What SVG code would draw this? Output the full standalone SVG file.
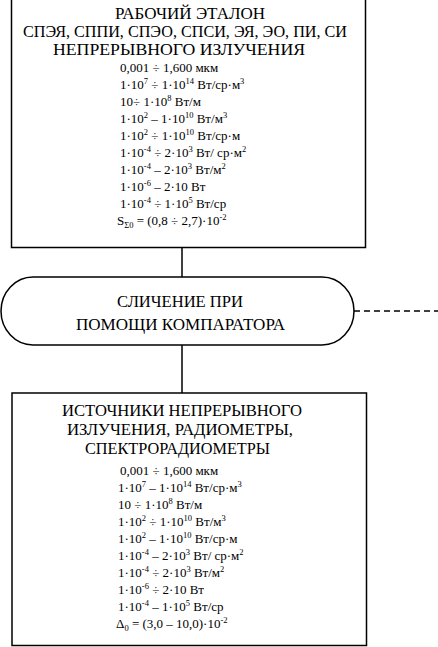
<svg xmlns="http://www.w3.org/2000/svg" width="438" height="647" viewBox="0 0 438 647">
<style>
.box{fill:#fff;stroke:#000;stroke-width:1.5}
.t{font-family:"Liberation Serif","Times New Roman",serif;fill:#000}
.h{font-size:16px;text-anchor:middle}
.d{font-size:13px}
.s{font-size:8.5px}
.conn{stroke:#000;stroke-width:1.5;fill:none}
.dash{stroke-dasharray:6 4}
</style>
<rect width="438" height="647" fill="#fff"/>
<g id="connectors">
<line class="conn" x1="182" y1="247.5" x2="182" y2="277"/>
<line class="conn" x1="182" y1="345" x2="182" y2="393"/>
<line class="conn dash" x1="354" y1="311" x2="438" y2="311"/>
</g>
<g id="working-standard">
<rect class="box" x="11.5" y="-2" width="354" height="249.5"/>
<text class="t h" x="190" y="19" textLength="150" lengthAdjust="spacingAndGlyphs">РАБОЧИЙ ЭТАЛОН</text>
<text class="t h" x="185" y="37" textLength="324" lengthAdjust="spacingAndGlyphs">СПЭЯ, СППИ, СПЭО, СПСИ, ЭЯ, ЭО, ПИ, СИ</text>
<text class="t h" x="179" y="55" textLength="252" lengthAdjust="spacingAndGlyphs">НЕПРЕРЫВНОГО ИЗЛУЧЕНИЯ</text>
<text class="t d" x="120" y="72">0,001 ÷ 1,600 мкм</text>
<text class="t d" x="120" y="89">1·10<tspan class="s" dy="-5">7</tspan><tspan dy="5"> ÷ 1·10</tspan><tspan class="s" dy="-5">14</tspan><tspan dy="5"> Вт/ср·м</tspan><tspan class="s" dy="-5">3</tspan></text>
<text class="t d" x="120" y="106">10÷ 1·10<tspan class="s" dy="-5">8</tspan><tspan dy="5"> Вт/м</tspan></text>
<text class="t d" x="120" y="123">1·10<tspan class="s" dy="-5">2</tspan><tspan dy="5"> – 1·10</tspan><tspan class="s" dy="-5">10</tspan><tspan dy="5"> Вт/м</tspan><tspan class="s" dy="-5">3</tspan></text>
<text class="t d" x="120" y="140">1·10<tspan class="s" dy="-5">2</tspan><tspan dy="5"> ÷ 1·10</tspan><tspan class="s" dy="-5">10</tspan><tspan dy="5"> Вт/ср·м</tspan></text>
<text class="t d" x="120" y="157">1·10<tspan class="s" dy="-5">-4</tspan><tspan dy="5"> ÷ 2·10</tspan><tspan class="s" dy="-5">3</tspan><tspan dy="5"> Вт/ ср·м</tspan><tspan class="s" dy="-5">2</tspan></text>
<text class="t d" x="120" y="174">1·10<tspan class="s" dy="-5">-4</tspan><tspan dy="5"> – 2·10</tspan><tspan class="s" dy="-5">3</tspan><tspan dy="5"> Вт/м</tspan><tspan class="s" dy="-5">2</tspan></text>
<text class="t d" x="120" y="191">1·10<tspan class="s" dy="-5">-6</tspan><tspan dy="5"> – 2·10 Вт</tspan></text>
<text class="t d" x="120" y="208">1·10<tspan class="s" dy="-5">-4</tspan><tspan dy="5"> ÷ 1·10</tspan><tspan class="s" dy="-5">5</tspan><tspan dy="5"> Вт/ср</tspan></text>
<text class="t d" x="117" y="225">S<tspan class="s" dy="3">Σ0</tspan><tspan dy="-3"> = (0,8 ÷ 2,7)·10</tspan><tspan class="s" dy="-5">-2</tspan></text>
</g>
<g id="comparison">
<rect class="box" x="1" y="277" width="353" height="68" rx="32" ry="34"/>
<text class="t h" x="180" y="307" textLength="126" lengthAdjust="spacingAndGlyphs">СЛИЧЕНИЕ ПРИ</text>
<text class="t h" x="180.5" y="330" textLength="209" lengthAdjust="spacingAndGlyphs">ПОМОЩИ КОМПАРАТОРА</text>
</g>
<g id="sources">
<rect class="box" x="12" y="393" width="354.5" height="252.5"/>
<text class="t h" x="182" y="416" textLength="240" lengthAdjust="spacingAndGlyphs">ИСТОЧНИКИ НЕПРЕРЫВНОГО</text>
<text class="t h" x="180" y="435" textLength="226" lengthAdjust="spacingAndGlyphs">ИЗЛУЧЕНИЯ, РАДИОМЕТРЫ,</text>
<text class="t h" x="177.5" y="454" textLength="185" lengthAdjust="spacingAndGlyphs">СПЕКТРОРАДИОМЕТРЫ</text>
<text class="t d" x="120" y="475">0,001 ÷ 1,600 мкм</text>
<text class="t d" x="118" y="492">1·10<tspan class="s" dy="-5">7</tspan><tspan dy="5"> – 1·10</tspan><tspan class="s" dy="-5">14</tspan><tspan dy="5"> Вт/ср·м</tspan><tspan class="s" dy="-5">3</tspan></text>
<text class="t d" x="118" y="509">10 ÷ 1·10<tspan class="s" dy="-5">8</tspan><tspan dy="5"> Вт/м</tspan></text>
<text class="t d" x="118" y="526">1·10<tspan class="s" dy="-5">2</tspan><tspan dy="5"> ÷ 1·10</tspan><tspan class="s" dy="-5">10</tspan><tspan dy="5"> Вт/м</tspan><tspan class="s" dy="-5">3</tspan></text>
<text class="t d" x="118" y="543">1·10<tspan class="s" dy="-5">2</tspan><tspan dy="5"> – 1·10</tspan><tspan class="s" dy="-5">10</tspan><tspan dy="5"> Вт/ср·м</tspan></text>
<text class="t d" x="118" y="560">1·10<tspan class="s" dy="-5">-4</tspan><tspan dy="5"> – 2·10</tspan><tspan class="s" dy="-5">3</tspan><tspan dy="5"> Вт/ ср·м</tspan><tspan class="s" dy="-5">2</tspan></text>
<text class="t d" x="118" y="577">1·10<tspan class="s" dy="-5">-4</tspan><tspan dy="5"> ÷ 2·10</tspan><tspan class="s" dy="-5">3</tspan><tspan dy="5"> Вт/м</tspan><tspan class="s" dy="-5">2</tspan></text>
<text class="t d" x="118" y="594">1·10<tspan class="s" dy="-5">-6</tspan><tspan dy="5"> ÷ 2·10 Вт</tspan></text>
<text class="t d" x="118" y="611">1·10<tspan class="s" dy="-5">-4</tspan><tspan dy="5"> – 1·10</tspan><tspan class="s" dy="-5">5</tspan><tspan dy="5"> Вт/ср</tspan></text>
<text class="t d" x="116" y="628">Δ<tspan class="s" dy="3">0</tspan><tspan dy="-3"> = (3,0 – 10,0)·10</tspan><tspan class="s" dy="-5">-2</tspan></text>
</g>
</svg>
